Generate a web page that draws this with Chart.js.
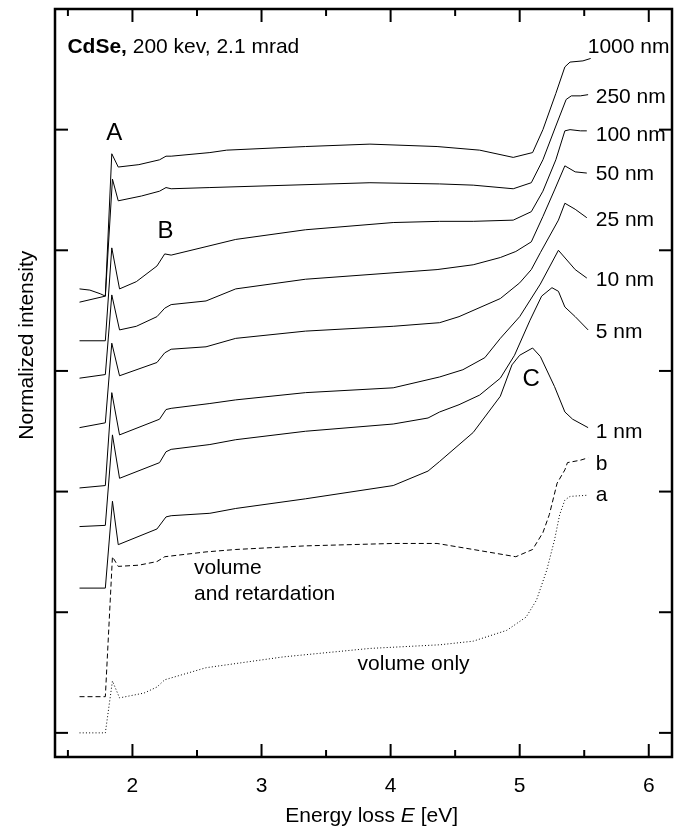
<!DOCTYPE html>
<html><head><meta charset="utf-8">
<script src="https://cdn.jsdelivr.net/npm/chart.js@4/dist/chart.umd.min.js"></script>
<style>html,body{margin:0;padding:0;background:#fff;}#wrap{width:684px;height:831px;}</style>
</head><body><div id="wrap"><canvas id="c" width="684" height="831"></canvas></div>
<script>
// ---- data (energy loss in eV, normalized intensity with vertical offsets) ----
const E_1000 = [1.59,1.67,1.75,1.79,1.84,1.89,2.05,2.21,2.26,2.30,2.60,2.73,3.34,3.84,4.36,4.69,4.95,5.10,5.18,5.28,5.35,5.39,5.49,5.55];
const I_1000 = [3.68,3.67,3.64,3.62,4.80,4.69,4.71,4.75,4.78,4.78,4.81,4.83,4.86,4.88,4.86,4.83,4.77,4.81,5.00,5.30,5.52,5.56,5.57,5.59];
const E_250 = [1.59,1.79,1.845,1.89,2.07,2.21,2.26,2.30,2.60,3.84,4.38,4.64,4.95,5.09,5.18,5.28,5.36,5.40,5.47,5.53];
const I_250 = [3.57,3.62,4.59,4.41,4.45,4.49,4.52,4.51,4.52,4.56,4.55,4.54,4.51,4.56,4.75,5.03,5.25,5.28,5.28,5.29];
const E_100 = [1.59,1.79,1.84,1.90,2.03,2.19,2.25,2.30,2.57,2.80,3.34,4.02,4.38,4.64,4.95,5.09,5.18,5.28,5.35,5.39,5.47,5.52];
const I_100 = [3.25,3.25,4.02,3.68,3.74,3.87,3.97,3.96,4.03,4.09,4.17,4.23,4.24,4.24,4.25,4.32,4.49,4.75,4.99,5.00,4.99,4.99];
const E_50 = [1.59,1.79,1.84,1.90,2.03,2.19,2.25,2.30,2.57,2.80,3.34,4.36,4.64,4.85,4.97,5.09,5.18,5.27,5.35,5.43,5.52];
const I_50 = [2.94,2.97,3.63,3.34,3.37,3.45,3.52,3.55,3.58,3.68,3.76,3.84,3.88,3.94,3.99,4.07,4.28,4.50,4.70,4.65,4.64];
const E_25 = [1.59,1.79,1.84,1.90,2.19,2.25,2.30,2.57,2.80,3.34,4.02,4.38,4.53,4.85,5.00,5.09,5.16,5.30,5.35,5.43,5.52];
const I_25 = [2.53,2.57,3.23,2.96,3.07,3.15,3.18,3.20,3.27,3.33,3.37,3.40,3.45,3.60,3.73,3.84,3.98,4.25,4.39,4.34,4.27];
const E_10 = [1.59,1.79,1.84,1.90,2.21,2.26,2.30,2.60,2.80,3.34,4.02,4.38,4.56,4.73,4.85,5.00,5.16,5.30,5.43,5.52];
const I_10 = [2.03,2.05,2.82,2.47,2.60,2.68,2.69,2.73,2.76,2.82,2.86,2.95,3.01,3.11,3.27,3.45,3.72,4.00,3.84,3.77];
const E_5 = [1.59,1.79,1.845,1.90,2.21,2.26,2.30,2.60,2.80,3.34,4.02,4.29,4.38,4.53,4.69,4.85,4.96,5.08,5.17,5.25,5.30,5.35,5.43,5.53];
const I_5 = [1.71,1.72,2.47,2.11,2.24,2.33,2.35,2.39,2.43,2.50,2.56,2.61,2.66,2.72,2.80,2.94,3.13,3.42,3.62,3.69,3.66,3.53,3.45,3.34];
const E_1 = [1.59,1.79,1.845,1.89,2.19,2.26,2.30,2.60,2.80,3.34,4.02,4.29,4.38,4.64,4.85,4.94,5.00,5.10,5.16,5.27,5.35,5.41,5.53];
const I_1 = [1.20,1.20,1.92,1.56,1.69,1.79,1.80,1.82,1.86,1.94,2.05,2.17,2.25,2.49,2.79,3.05,3.13,3.19,3.12,2.87,2.66,2.60,2.53];
const E_b = [1.59,1.79,1.845,1.89,2.05,2.19,2.25,2.57,2.80,3.34,4.02,4.36,4.64,4.97,5.10,5.18,5.23,5.29,5.35,5.37,5.47,5.53];
const I_b = [0.30,0.30,1.46,1.38,1.39,1.42,1.46,1.50,1.52,1.55,1.57,1.57,1.52,1.46,1.52,1.66,1.81,2.07,2.18,2.24,2.26,2.28];
const E_a = [1.59,1.79,1.845,1.90,2.09,2.19,2.25,2.57,3.17,3.84,4.38,4.64,4.90,5.05,5.13,5.21,5.27,5.31,5.35,5.39,5.53];
const I_a = [0.00,0.00,0.43,0.29,0.33,0.38,0.44,0.54,0.63,0.70,0.73,0.76,0.85,0.96,1.10,1.35,1.60,1.81,1.93,1.96,1.97];

const seriesNames = ['1000 nm','250 nm','100 nm','50 nm','25 nm','10 nm','5 nm','1 nm','b','a'];
const xMajorTicks = [2,3,4,5,6];
const xMinorTicks = [1.5,2.5,3.5,4.5,5.5];
const yTicks = [0,1,2,3,4,5];

// ---- build datasets ----
function pts(E, I){ return E.map((e,i)=>({x:e, y:I[i]})); }
const solid = [[E_1000,I_1000],[E_250,I_250],[E_100,I_100],[E_50,I_50],[E_25,I_25],[E_10,I_10],[E_5,I_5],[E_1,I_1]];
const datasets = solid.map((s,i)=>({label:seriesNames[i], data:pts(s[0],s[1]), borderColor:'#000', borderWidth:1, pointRadius:0, tension:0, fill:false}));
datasets.push({label:seriesNames[8], data:pts(E_b,I_b), borderColor:'#000', borderWidth:1, borderDash:[5,3], pointRadius:0, tension:0, fill:false});
datasets.push({label:seriesNames[9], data:pts(E_a,I_a), borderColor:'#000', borderWidth:1, borderDash:[1,2.2], pointRadius:0, tension:0, fill:false});

const FONT = '"Liberation Sans", Arial, Helvetica, sans-serif';

// annotations anchored in data coordinates (E, intensity)
const curveLabels = [
  ['1000 nm',5.527,5.636],['250 nm',5.589,5.221],['100 nm',5.589,4.903],['50 nm',5.589,4.585],
  ['25 nm',5.589,4.198],['10 nm',5.589,3.706],['5 nm',5.589,3.273],['1 nm',5.589,2.444],
  ['b',5.589,2.181],['a',5.589,1.918]
];
const noteLabels = [
  ['volume',2.477,1.318],['and retardation',2.477,1.103],['volume only',3.744,0.522]
];
const peakLabels = [['A',1.860,4.911],['B',2.256,4.102],['C',5.088,2.877]];

const decor = {
  id:'decor',
  afterDraw(chart){
    const {ctx, chartArea:a, scales:{x,y}} = chart;
    ctx.save();
    ctx.strokeStyle='#000'; ctx.fillStyle='#000';
    ctx.lineWidth=2.5;
    ctx.strokeRect(a.left, a.top, a.right-a.left, a.bottom-a.top);
    ctx.lineWidth=2;
    const seg=(x1,y1,x2,y2)=>{ctx.beginPath();ctx.moveTo(x1,y1);ctx.lineTo(x2,y2);ctx.stroke();};
    xMajorTicks.forEach(v=>{const p=x.getPixelForValue(v); seg(p,a.bottom,p,a.bottom-13); seg(p,a.top,p,a.top+13);});
    xMinorTicks.forEach(v=>{const p=x.getPixelForValue(v); seg(p,a.bottom,p,a.bottom-7); seg(p,a.top,p,a.top+7);});
    yTicks.forEach(v=>{const p=y.getPixelForValue(v); seg(a.left,p,a.left+13,p); seg(a.right,p,a.right-13,p);});
    ctx.textBaseline='alphabetic';
    ctx.textAlign='left';
    ctx.font='21px '+FONT;
    curveLabels.forEach(l=>ctx.fillText(l[0], x.getPixelForValue(l[1]), y.getPixelForValue(l[2])));
    noteLabels.forEach(l=>ctx.fillText(l[0], x.getPixelForValue(l[1]), y.getPixelForValue(l[2])));
    ctx.textAlign='center';
    ctx.font='24px '+FONT;
    peakLabels.forEach(l=>ctx.fillText(l[0], x.getPixelForValue(l[1]), y.getPixelForValue(l[2])));
    // header
    ctx.textAlign='left';
    let hx = x.getPixelForValue(1.496), hy = y.getPixelForValue(5.638);
    ctx.font='bold 21px '+FONT; ctx.fillText('CdSe,', hx, hy);
    hx += ctx.measureText('CdSe,').width;
    ctx.font='21px '+FONT; ctx.fillText(' 200 kev, 2.1 mrad', hx, hy);
    // x title with italic E
    const parts=[['Energy loss ','21px '],['E','italic 21px '],[' [eV]','21px ']];
    let w=0; parts.forEach(p=>{ctx.font=p[1]+FONT; w+=ctx.measureText(p[0]).width;});
    let tx = x.getPixelForValue(3.853) - w/2, ty = 822;
    parts.forEach(p=>{ctx.font=p[1]+FONT; ctx.fillText(p[0],tx,ty); tx+=ctx.measureText(p[0]).width;});
    // y title
    ctx.save();
    ctx.translate(33, y.getPixelForValue(3.213));
    ctx.rotate(-Math.PI/2);
    ctx.textAlign='center';
    ctx.font='21px '+FONT;
    ctx.fillText('Normalized intensity',0,0);
    ctx.restore();
    ctx.restore();
  }
};

new Chart(document.getElementById('c'), {
  type:'line',
  data:{datasets},
  options:{
    responsive:false, animation:false, devicePixelRatio:1,
    layout:{padding:{top:9,right:12,left:0,bottom:0}},
    plugins:{legend:{display:false}, tooltip:{enabled:false}},
    scales:{
      x:{type:'linear', min:1.4, max:6.18,
         afterFit:s=>{s.height=74;},
         afterBuildTicks:s=>{s.ticks=xMajorTicks.map(v=>({value:v}));},
         grid:{display:false, drawTicks:false}, border:{display:false},
         ticks:{padding:17, color:'#000', font:{family:FONT,size:21}, maxRotation:0, autoSkip:false}},
      y:{type:'linear', min:-0.2, max:6.0,
         afterFit:s=>{s.width=55;},
         grid:{display:false, drawTicks:false}, border:{display:false},
         ticks:{display:false}}
    }
  },
  plugins:[decor]
});
</script></body></html>
